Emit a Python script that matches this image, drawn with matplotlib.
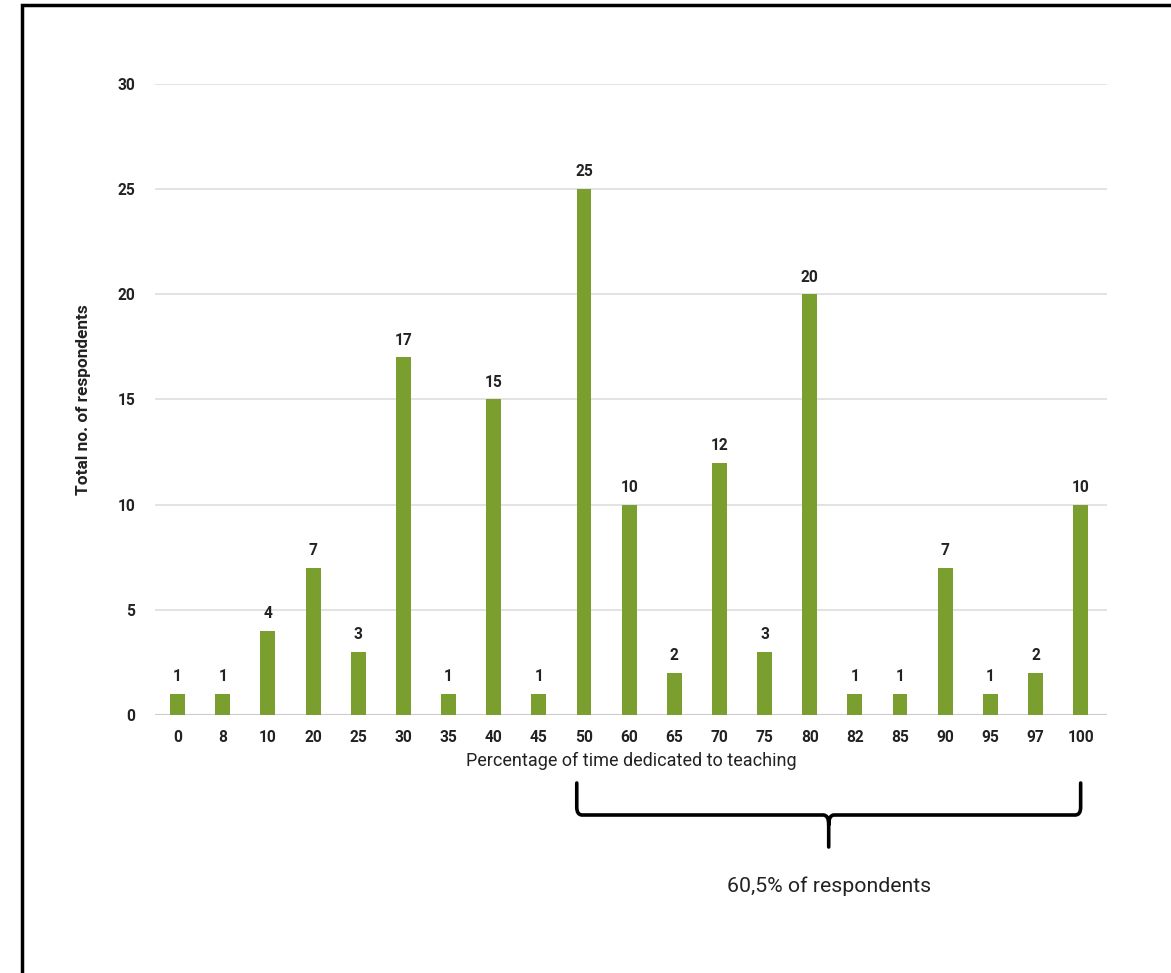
import matplotlib
matplotlib.use("Agg")
import matplotlib.pyplot as plt
from matplotlib.path import Path
from matplotlib.patches import PathPatch, Rectangle
from matplotlib.transforms import blended_transform_factory

categories = ["0", "8", "10", "20", "25", "30", "35", "40", "45", "50", "60",
              "65", "70", "75", "80", "82", "85", "90", "95", "97", "100"]
respondents = [1, 1, 4, 7, 3, 17, 1, 15, 1, 25, 10, 2, 12, 3, 20, 1, 1, 7, 1, 2, 10]
y_ticks = [0, 5, 10, 15, 20, 25, 30]
brace_from, brace_to = "50", "100"
brace_text = "60,5% of respondents"

plt.rcParams["font.family"] = ["Roboto", "DejaVu Sans"]

BAR = "#7a9f2f"
TXT = "#222222"

fig = plt.figure(figsize=(11.71, 9.73), dpi=100)
ax = fig.add_axes([0.1324, 0.2652, 0.8130, 0.6485])

x = list(range(len(categories)))
ax.bar(x, respondents, width=0.33, color=BAR, zorder=3)
for xi, v in zip(x, respondents):
    ax.annotate(str(v), (xi, v), xytext=(0, 7), textcoords="offset points",
                ha="center", va="bottom", fontsize=11.2, fontweight="bold", color=TXT)

ax.set_xlim(-0.5, len(categories) - 0.415)
ax.set_ylim(0, 30)
ax.set_yticks(y_ticks)
ax.set_xticks(x)
ax.set_xticklabels(categories)
ax.tick_params(axis="both", length=0, labelsize=11.2, colors=TXT)
ax.tick_params(axis="x", pad=11)
ax.tick_params(axis="y", pad=14)
for lab in ax.get_xticklabels() + ax.get_yticklabels():
    lab.set_fontweight("bold")
ax.grid(axis="y", color="#e0e0e0", linewidth=1.3, zorder=0)
ax.axhline(0, color="#cccccc", linewidth=1.5, zorder=2)
for s in ax.spines.values():
    s.set_visible(False)

ax.set_xlabel("Percentage of time dedicated to teaching", fontsize=13, color=TXT, labelpad=5)
ax.set_ylabel("Total no. of respondents", fontsize=12.4, fontweight="bold", color=TXT, labelpad=19)

# curly brace under the upper half of the categories
tr = blended_transform_factory(ax.transData, fig.transFigure)
x0 = categories.index(brace_from) - 0.16
x1 = categories.index(brace_to)
xm = (x0 + x1) / 2
def fy(py):
    return 1 - py / 973
yt, yb, ytip = fy(783), fy(815), fy(847)
r = 0.12
verts = [(x0, yt), (x0, yb + 0.008), (x0, yb), (x0 + r, yb),
         (xm - r, yb), (xm, yb), (xm, yb - 0.010), (xm, ytip),
         (xm, yb - 0.010), (xm, yb), (xm + r, yb),
         (x1 - r, yb), (x1, yb), (x1, yb + 0.008), (x1, yt)]
codes = [Path.MOVETO, Path.LINETO, Path.CURVE3, Path.CURVE3,
         Path.LINETO, Path.CURVE3, Path.CURVE3, Path.LINETO,
         Path.MOVETO, Path.CURVE3, Path.CURVE3,
         Path.LINETO, Path.CURVE3, Path.CURVE3, Path.LINETO]
fig.add_artist(PathPatch(Path(verts, codes), transform=tr, fill=False,
                         edgecolor="black", linewidth=2.6, capstyle="round",
                         joinstyle="round"))
fig.text(xm, fy(886), brace_text, transform=tr, ha="center", va="center",
         fontsize=15.3, color=TXT)

# frame around the graphic
fig.add_artist(Rectangle((22 / 1171, -0.1), 1.2, 1 - 5 / 973 + 0.1,
                         transform=fig.transFigure, fill=False,
                         edgecolor="black", linewidth=2.5))

fig.savefig("out.png", dpi=100, facecolor="white")
